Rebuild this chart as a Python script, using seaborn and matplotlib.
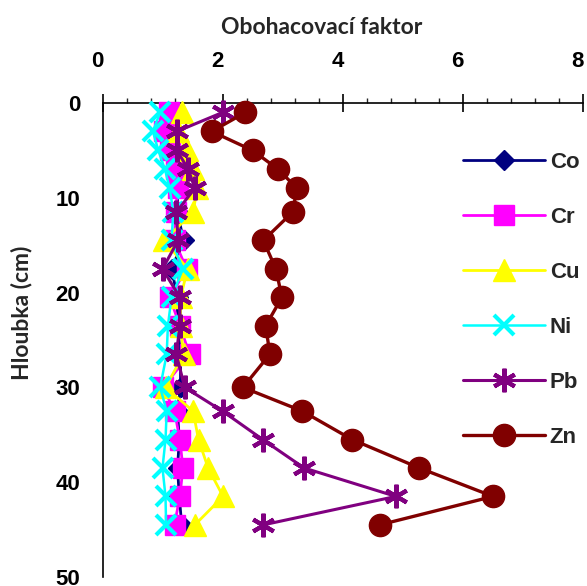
import matplotlib
matplotlib.use("Agg")
import matplotlib.pyplot as plt
import matplotlib.transforms as mtransforms
import seaborn as sns
import pandas as pd

# Sampling depths (cm) and enrichment factors per element
depth = [1, 3, 5, 7, 9, 11.5, 14.5, 17.5, 20.5, 23.5, 26.5, 30, 32.5, 35.5, 38.5, 41.5, 44.5]
co = [1.20, 1.15, 1.15, 1.20, 1.25, 1.25, 1.35, 1.15, 1.25, 1.25, 1.30, 1.30, 1.25, 1.28, 1.25, 1.28, 1.32]
cr = [1.10, 1.03, 1.12, 1.22, 1.25, 1.22, 1.20, 1.40, 1.12, 1.29, 1.45, 1.01, 1.20, 1.29, 1.34, 1.29, 1.20]
cu = [1.32, 1.25, 1.40, 1.50, 1.58, 1.51, 1.03, 1.42, 1.30, 1.30, 1.35, 1.05, 1.51, 1.60, 1.76, 2.01, 1.54]
ni = [0.96, 0.84, 0.93, 1.04, 1.12, 1.18, 1.15, 1.34, 1.15, 1.09, 1.07, 0.96, 1.07, 1.05, 1.00, 1.05, 1.06]
pb = [2.00, 1.24, 1.24, 1.43, 1.54, 1.23, 1.26, 1.00, 1.29, 1.29, 1.23, 1.37, 2.00, 2.67, 3.36, 4.89, 2.68]
zn = [2.38, 1.82, 2.50, 2.93, 3.24, 3.17, 2.68, 2.89, 2.99, 2.72, 2.79, 2.34, 3.33, 4.16, 5.28, 6.51, 4.62]

elements = ["Co", "Cr", "Cu", "Ni", "Pb", "Zn"]
values = [co, cr, cu, ni, pb, zn]

xticks = [0, 2, 4, 6, 8]
yticks = [0, 10, 20, 30, 40, 50]

styles = {
    "Co": dict(color="#000080", marker="D", ms=10, lw=2.0, mew=1),
    "Cr": dict(color="#FF00FF", marker="s", ms=14, lw=2.0, mew=1),
    "Cu": dict(color="#FFFF00", marker="^", ms=16, lw=2.0, mew=1),
    "Ni": dict(color="#00FFFF", marker="x", ms=15, lw=1.8, mew=3),
    "Pb": dict(color="#800080", marker=(6, 2, 0), ms=17, lw=2.2, mew=3),
    "Zn": dict(color="#800000", marker="o", ms=16, lw=2.4, mew=1),
}

df = pd.concat(
    [pd.DataFrame({"element": el, "depth": depth, "ef": v}) for el, v in zip(elements, values)],
    ignore_index=True,
)

sns.set_style("white")
plt.rcParams["font.family"] = ["Liberation Sans", "DejaVu Sans"]

fig = plt.figure(figsize=(5.87, 5.86), dpi=100)
ax = fig.add_axes([102.5 / 587, 9 / 586, 480 / 587, 474 / 586])

for i, el in enumerate(elements):
    st = styles[el]
    sub = df[df["element"] == el]
    sns.lineplot(
        data=sub, x="ef", y="depth", ax=ax, sort=False, estimator=None,
        color=st["color"], marker=st["marker"], markersize=st["ms"],
        linewidth=st["lw"], markeredgewidth=st["mew"],
        markeredgecolor=st["color"], markerfacecolor=st["color"],
        label=el, zorder=3 + i, clip_on=False,
    )

ax.set_xlim(0, 8)
ax.set_ylim(50, 0)
ax.xaxis.tick_top()
ax.set_xticks(xticks)
ax.set_yticks(yticks)
ax.set_xticks([x * 0.4 for x in range(21)], minor=True)
ax.set_yticks(list(range(0, 51, 2)), minor=True)

for s in ["right", "bottom"]:
    ax.spines[s].set_visible(False)
for s in ["left", "top"]:
    ax.spines[s].set_linewidth(1.2)
    ax.spines[s].set_color("black")

ax.tick_params(axis="both", which="major", direction="inout", length=12.5, width=1.2,
               labelsize=16, colors="black")
ax.tick_params(axis="x", which="major", pad=16, top=True, bottom=False)
ax.tick_params(axis="y", which="major", pad=9.8)
ax.tick_params(axis="x", which="minor", direction="out", length=3.6, width=1, top=True, bottom=False)
ax.tick_params(axis="y", which="minor", direction="out", length=3.6, width=1)

# x tick labels sit a few pixels left of their ticks
shift = mtransforms.ScaledTranslation(-5 / 100, 0, fig.dpi_scale_trans)
for lab in ax.get_xticklabels():
    lab.set_fontweight("bold")
    lab.set_transform(lab.get_transform() + shift)
for lab in ax.get_yticklabels():
    lab.set_fontweight("bold")

ax.xaxis.set_label_position("top")
ax.set_xlabel("Obohacovací faktor", fontsize=16.5, fontweight="bold", family="Lato")
ax.xaxis.set_label_coords(0.457, 1.16)
ax.xaxis.label.set_va("center")
ax.set_ylabel("Hloubka (cm)", fontsize=16.5, fontweight="bold", family="Lato")
ax.yaxis.set_label_coords(-0.168, 0.557)
ax.yaxis.label.set_va("center")

ax.grid(False)
handles, labels = ax.get_legend_handles_labels()
ax.legend(handles, labels, loc="upper left", bbox_to_anchor=(463 / 587, 1 - 152 / 586),
          bbox_transform=fig.transFigure, frameon=False, borderaxespad=0, borderpad=0,
          handlelength=3.7, handletextpad=0.2, labelspacing=1.53,
          prop=dict(family="Liberation Sans", weight="bold", size=16))

fig.savefig("out.png", dpi=100)
